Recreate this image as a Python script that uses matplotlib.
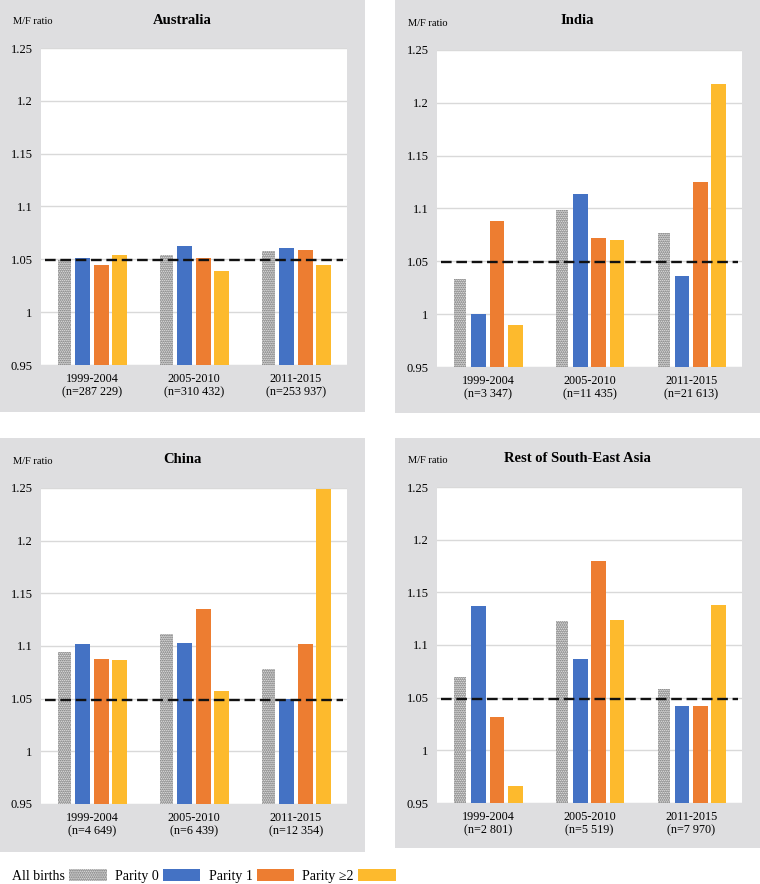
import matplotlib
matplotlib.use("Agg")
import matplotlib.pyplot as plt
from matplotlib.patches import Rectangle

plt.rcParams['font.family'] = ['Liberation Serif', 'DejaVu Serif']
plt.rcParams['hatch.linewidth'] = 1.0

# ---------------- data ----------------
periods = ["1999-2004", "2005-2010", "2011-2015"]
regions = ["Australia", "India", "China", "Rest of South-East Asia"]
series_names = ["All births", "Parity 0", "Parity 1", "Parity \u22652"]

n_australia = ["287 229", "310 432", "253 937"]
n_india = ["3 347", "11 435", "21 613"]
n_china = ["4 649", "6 439", "12 354"]
n_sea = ["2 801", "5 519", "7 970"]

# values per period: [All births, Parity 0, Parity 1, Parity >=2]
aus_all = [1.049, 1.054, 1.058]
aus_p0 = [1.051, 1.063, 1.061]
aus_p1 = [1.045, 1.051, 1.059]
aus_p2 = [1.054, 1.039, 1.045]

ind_all = [1.033, 1.099, 1.077]
ind_p0 = [1.000, 1.114, 1.036]
ind_p1 = [1.088, 1.072, 1.125]
ind_p2 = [0.990, 1.070, 1.218]

chn_all = [1.094, 1.111, 1.078]
chn_p0 = [1.102, 1.103, 1.050]
chn_p1 = [1.088, 1.135, 1.102]
chn_p2 = [1.087, 1.057, 1.249]

sea_all = [1.070, 1.123, 1.058]
sea_p0 = [1.137, 1.087, 1.042]
sea_p1 = [1.032, 1.180, 1.042]
sea_p2 = [0.966, 1.124, 1.138]

reference_ratio = 1.049
yticks = [0.95, 1.0, 1.05, 1.1, 1.15, 1.2, 1.25]
ytick_labels = ["0.95", "1", "1.05", "1.1", "1.15", "1.2", "1.25"]

# ---------------- style ----------------
W, H = 760, 884
BLUE = "#4472C4"
ORANGE = "#ED7D31"
YELLOW = "#FDBA2D"
PANEL_BG = "#dedee0"
GRID = "#d9d9d9"

fig = plt.figure(figsize=(W / 100, H / 100), dpi=100)


def fbox(x0, y0, x1, y1):
    return [x0 / W, 1 - y1 / H, (x1 - x0) / W, (y1 - y0) / H]


panels = [
    dict(bg=(0, 0, 365, 412), ax=(41, 48, 347, 365), ty=20),
    dict(bg=(395, 0, 760, 413), ax=(437, 50, 742, 367), ty=21),
    dict(bg=(0, 438, 365, 852), ax=(41, 488, 347, 804), ty=459),
    dict(bg=(395, 438, 760, 848), ax=(437, 487, 742, 803), ty=458),
]

data = [
    (aus_all, aus_p0, aus_p1, aus_p2, n_australia),
    (ind_all, ind_p0, ind_p1, ind_p2, n_india),
    (chn_all, chn_p0, chn_p1, chn_p2, n_china),
    (sea_all, sea_p0, sea_p1, sea_p2, n_sea),
]

offsets = [-0.27, -0.09, 0.09, 0.27]
handles = []
for i, (p, d) in enumerate(zip(panels, data)):
    bx0, by0, bx1, by1 = p["bg"]
    fig.patches.append(Rectangle((bx0 / W, 1 - by1 / H), (bx1 - bx0) / W, (by1 - by0) / H,
                                 transform=fig.transFigure, facecolor=PANEL_BG,
                                 edgecolor="none", zorder=-10))
    ax = fig.add_axes(fbox(*p["ax"]))
    ax.set_facecolor("white")
    a_all, a_p0, a_p1, a_p2, nlab = d
    x = list(range(len(periods)))
    h0 = ax.bar([xi + offsets[0] for xi in x], a_all, width=0.12, bottom=0,
                facecolor="white", edgecolor="#505050", hatch="........", linewidth=0, zorder=2)
    h1 = ax.bar([xi + offsets[1] for xi in x], a_p0, width=0.145, color=BLUE, zorder=2)
    h2 = ax.bar([xi + offsets[2] for xi in x], a_p1, width=0.145, color=ORANGE, zorder=2)
    h3 = ax.bar([xi + offsets[3] for xi in x], a_p2, width=0.145, color=YELLOW, zorder=2)
    if i == 0:
        handles = [h0, h1, h2, h3]
    ax.axhline(reference_ratio, xmin=0.012, xmax=0.988, color="#111111", lw=1.7,
               ls=(0, (4.5, 2)), zorder=5)
    ax.set_ylim(0.95, 1.25)
    ax.set_xlim(-0.5, 2.5)
    ax.set_yticks(yticks)
    ax.set_yticklabels(ytick_labels, fontsize=9)
    ax.set_xticks(x)
    ax.set_xticklabels([f"{pr}\n(n={n})" for pr, n in zip(periods, nlab)], fontsize=8.7,
                       linespacing=1.1)
    ax.tick_params(length=0, pad=6)
    ax.grid(axis="y", color=GRID, lw=1, zorder=0)
    ax.set_axisbelow(True)
    for s in ax.spines.values():
        s.set_visible(False)
    cx = (bx0 + bx1) / 2
    fig.text(cx / W, 1 - p["ty"] / H, regions[i], ha="center", va="center",
             fontsize=10.5, fontweight="bold")
    fig.text((bx0 + 13) / W, 1 - (p["ty"] + 2) / H, "M/F ratio", ha="left", va="center",
             fontsize=7.5)

fig.legend(handles, series_names, loc="center left", bbox_to_anchor=(12 / W, 1 - 876 / H),
           ncol=4, frameon=False, markerfirst=False, fontsize=10, handlelength=2.7,
           handleheight=0.95, handletextpad=0.3, columnspacing=0.6, borderpad=0,
           borderaxespad=0)

fig.savefig("out.png", dpi=100, facecolor="white")
